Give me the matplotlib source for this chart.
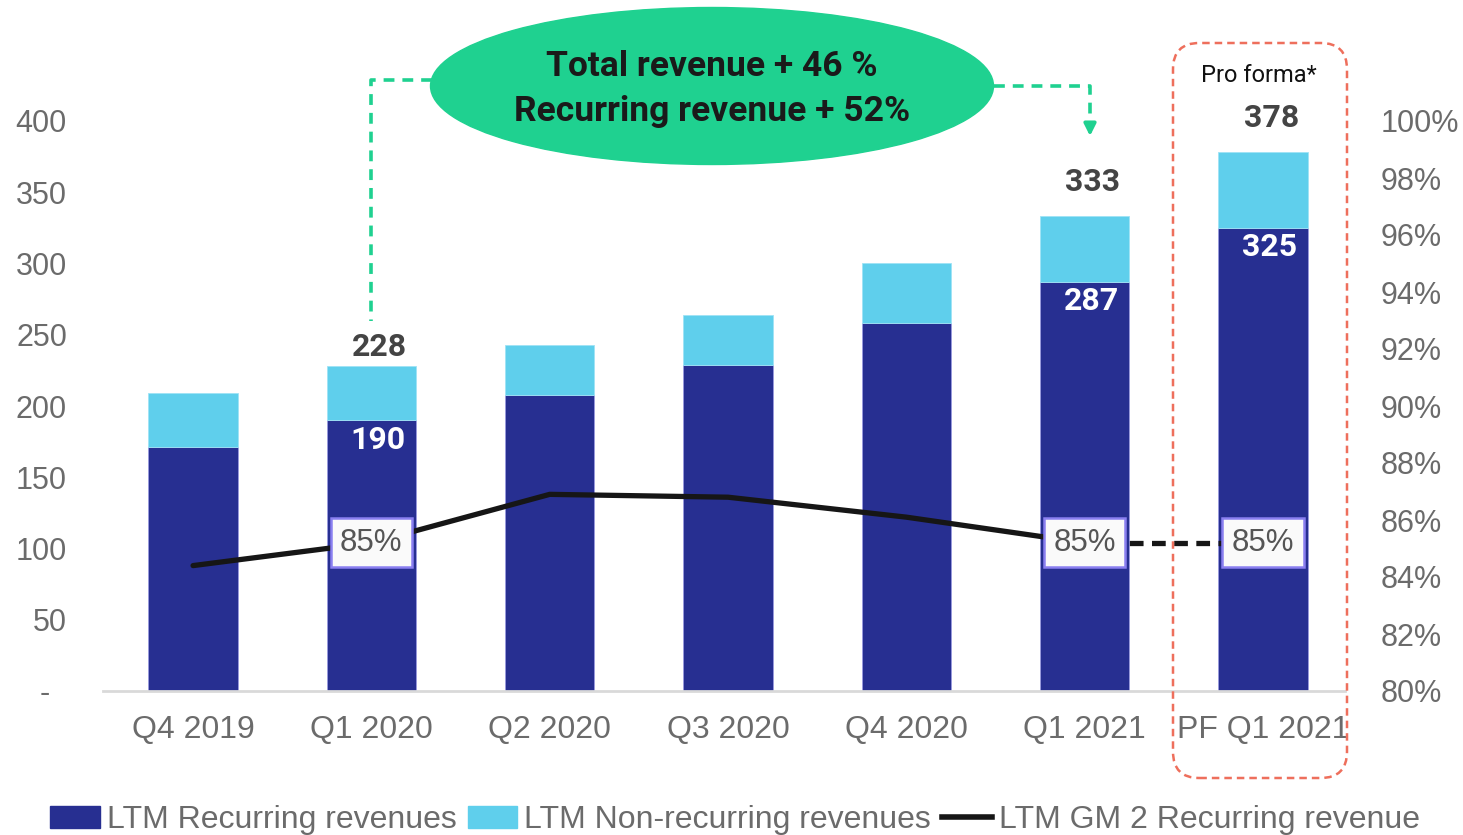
import matplotlib
matplotlib.use("Agg")
import matplotlib.pyplot as plt
from matplotlib.patches import Ellipse, FancyBboxPatch, Patch
from matplotlib.lines import Line2D
from matplotlib.ticker import FuncFormatter, MultipleLocator

# ---------------- data ----------------
categories = ["Q4 2019", "Q1 2020", "Q2 2020", "Q3 2020", "Q4 2020", "Q1 2021", "PF Q1 2021"]
recurring = [171, 190, 208, 229, 258, 287, 325]
total = [209, 228, 243, 264, 300, 333, 378]
non_recurring = [t - r for t, r in zip(total, recurring)]
gm2 = [84.4, 85.2, 86.9, 86.8, 86.1, 85.2, 85.2]
gm2_labels = ["", "85%", "", "", "", "85%", "85%"]
total_label_idx = [1, 5, 6]
recurring_label_idx = [1, 5, 6]
callout_lines = ["Total revenue + 46 %", "Recurring revenue + 52%"]
legend_labels = ["LTM Recurring revenues", "LTM Non-recurring revenues", "LTM GM 2 Recurring revenue"]

# ---------------- style ----------------
DARK = "#272f91"
LIGHT = "#5fcfec"
GREY = "#6b6b6b"
GREEN = "#1fd190"
RED = "#ee6f5c"

W, H = 1463, 835
fig = plt.figure(figsize=(W / 100, H / 100), dpi=100)
ax = fig.add_axes([103 / W, 1 - 691 / H, (1345 - 103) / W, (691 - 121) / H])

x = list(range(len(categories)))
ax.bar(x, recurring, width=0.5, color=DARK, edgecolor="#9a9ae0", linewidth=0.6, zorder=2)
ax.bar(x, non_recurring, bottom=recurring, width=0.5, color=LIGHT, edgecolor="#9fe3f5",
       linewidth=0.6, zorder=2)

ax.set_xlim(-0.505, 6.46)
ax.set_ylim(0, 400)
ax.yaxis.set_major_locator(MultipleLocator(50))
ax.yaxis.set_major_formatter(FuncFormatter(lambda v, p: "-  " if v == 0 else f"{v:.0f}"))
ax.set_xticks(x)
ax.set_xticklabels(categories)
ax.tick_params(axis="y", length=0, pad=26, labelsize=22, labelcolor=GREY)
ax.tick_params(axis="x", length=0, pad=17, labelsize=23, labelcolor=GREY)
for s in ["top", "right", "left"]:
    ax.spines[s].set_visible(False)
ax.spines["bottom"].set_color("#d9d9d9")
ax.spines["bottom"].set_linewidth(2)
for lab in ax.get_xticklabels() + ax.get_yticklabels():
    lab.set_family("Liberation Sans")

# value labels
tot_gap = {1: 3, 5: 14, 6: 14}
for i in total_label_idx:
    ax.annotate(f"{total[i]}", (x[i], total[i]), xytext=(6, tot_gap[i]), textcoords="offset points",
                ha="center", va="bottom", fontsize=23, fontweight="bold", color="#444444",
                family="Roboto", zorder=5)
for i in recurring_label_idx:
    ax.annotate(f"{recurring[i]}", (x[i], recurring[i]), xytext=(5, -14), textcoords="offset points",
                ha="center", va="center", fontsize=23, fontweight="bold", color="white",
                family="Roboto", zorder=5)

# GM2 line on right axis
ax2 = ax.twinx()
ax2.set_ylim(80, 100)
ax2.set_xlim(ax.get_xlim())
ax2.yaxis.set_major_locator(MultipleLocator(2))
ax2.yaxis.set_major_formatter(FuncFormatter(lambda v, p: f"{v:.0f}%"))
ax2.tick_params(axis="y", length=0, pad=26, labelsize=22, labelcolor=GREY)
for lab in ax2.get_yticklabels():
    lab.set_family("Liberation Sans")
for s in ax2.spines.values():
    s.set_visible(False)
ax2.plot(x[:6], gm2[:6], color="#161616", lw=3.8, solid_capstyle="round", zorder=3)
ax2.plot(x[5:], gm2[5:], color="#161616", lw=3.8, ls=(0, (2.6, 1.6)), zorder=3)
for i, t in enumerate(gm2_labels):
    if t:
        ax2.text(x[i], gm2[i], t, ha="center", va="center", fontsize=22.5, color="#555555",
                 family="Liberation Sans", zorder=6,
                 bbox=dict(boxstyle="square,pad=0.3", fc="#fafafa", ec="#8a7ff0", lw=1.8))

# green callout ellipse
ell = Ellipse((712 / W, 1 - 86 / H), 563 / W, 157 / H, transform=fig.transFigure,
              color=GREEN, zorder=1)
fig.patches.append(ell)
fig.text(712 / W, 1 - 67 / H, callout_lines[0], ha="center", va="center", fontsize=25.5,
         fontweight="bold", family="Roboto", color="#1a1a1a")
fig.text(712 / W, 1 - 111 / H, callout_lines[1], ha="center", va="center", fontsize=25.5,
         fontweight="bold", family="Roboto", color="#1a1a1a")

# green dashed connectors
dash = (0, (3, 2.2))
ax.plot([1.34, 1.0, 1.0], [428.5, 428.5, total[1] + 32], color=GREEN, lw=2.6, ls=dash,
        clip_on=False, zorder=1)
ax.plot([4.49, 5.03, 5.03], [424.5, 424.5, 400], color=GREEN, lw=2.6, ls=dash,
        clip_on=False, zorder=1)
ax.annotate("", xy=(5.03, 387.5), xytext=(5.03, 400.5),
            arrowprops=dict(arrowstyle="-|>,head_length=0.7,head_width=0.35", color=GREEN, lw=2.6),
            annotation_clip=False)

# red dashed pro-forma frame
frame = FancyBboxPatch((1173 / W, 1 - 778 / H), (1347 - 1173) / W, (778 - 43) / H,
                       boxstyle="round,pad=0,rounding_size=0.018", mutation_aspect=W / H,
                       transform=fig.transFigure, fill=False, ec=RED, lw=1.8, ls=(0, (3, 2)))
fig.patches.append(frame)
fig.text(1259 / W, 1 - 76 / H, "Pro forma*", ha="center", va="center", fontsize=17,
         family="Roboto", color="#111111")

# legend
handles = [Patch(color=DARK), Patch(color=LIGHT), Line2D([], [], color="#161616", lw=4)]
leg = fig.legend(handles, legend_labels, loc="center", bbox_to_anchor=(735 / W, 1 - 820 / H),
                 ncol=3, frameon=False, handlelength=1.55, handleheight=0.7,
                 handletextpad=0.22, columnspacing=0.35, labelcolor=GREY,
                 prop={"family": "Liberation Sans", "size": 23})

fig.savefig("out.png", dpi=100)
